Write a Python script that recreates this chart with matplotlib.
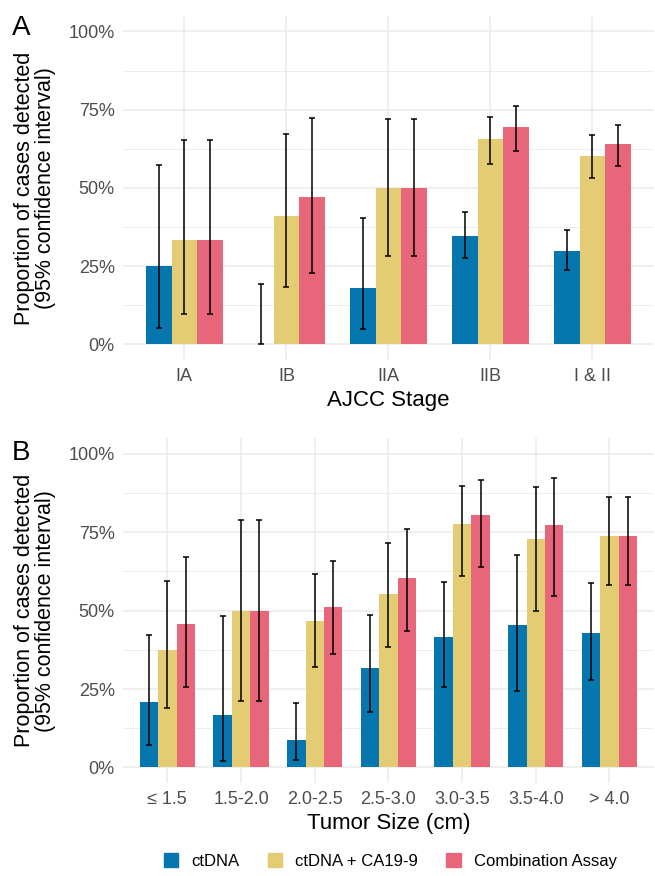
import matplotlib
matplotlib.use("Agg")
from matplotlib import pyplot as plt
from matplotlib.patches import Patch
from matplotlib.ticker import FixedLocator, PercentFormatter
import numpy as np

plt.rcParams['font.family'] = ['Liberation Sans', 'DejaVu Sans']

series = ["ctDNA", "ctDNA + CA19-9", "Combination Assay"]
colors = ["#0677AE", "#E3CC73", "#E8667A"]

# panel A: AJCC stage
stages = ["IA", "IB", "IIA", "IIB", "I & II"]
stage_val = [
    [25.0, 0.0, 18.0, 34.7, 29.9],
    [33.3, 41.1, 50.0, 65.5, 60.3],
    [33.3, 47.2, 50.0, 69.6, 63.9],
]
stage_lo = [
    [5.3, 0.0, 5.0, 27.6, 23.8],
    [9.8, 18.4, 28.1, 57.6, 53.3],
    [9.8, 22.9, 28.1, 61.9, 57.1],
]
stage_hi = [
    [57.2, 19.4, 40.3, 42.4, 36.4],
    [65.2, 67.1, 71.9, 72.5, 66.8],
    [65.2, 72.3, 71.9, 76.3, 70.2],
]

# panel B: tumor size
sizes = ["\u2264 1.5", "1.5-2.0", "2.0-2.5", "2.5-3.0", "3.0-3.5", "3.5-4.0", "> 4.0"]
size_val = [
    [20.9, 16.7, 8.7, 31.7, 41.6, 45.4, 42.9],
    [37.4, 49.9, 46.7, 55.3, 77.7, 72.9, 73.8],
    [45.7, 49.9, 51.1, 60.4, 80.5, 77.3, 73.8],
]
size_lo = [
    [7.2, 2.1, 2.4, 17.6, 25.5, 24.5, 27.8],
    [18.8, 21.2, 32.1, 38.3, 60.9, 49.8, 58.0],
    [25.6, 21.2, 36.1, 43.4, 63.9, 54.7, 58.0],
]
size_hi = [
    [42.2, 48.4, 20.4, 48.7, 59.1, 67.8, 58.9],
    [59.5, 78.9, 61.8, 71.4, 89.8, 89.3, 86.1],
    [67.2, 78.9, 65.9, 76.0, 91.7, 92.1, 86.1],
]


def panel(ax, cats, vals, lo, hi, xlabel):
    x = np.arange(len(cats))
    w = 0.25
    for i in range(3):
        xs = x + (i - 1) * w
        v = np.array(vals[i])
        ax.bar(xs, v, width=w, color=colors[i], zorder=2)
        yerr = [v - np.array(lo[i]), np.array(hi[i]) - v]
        ax.errorbar(xs, v, yerr=yerr, fmt='none', ecolor='black',
                    elinewidth=1.1, capsize=2.2, capthick=1.1, zorder=3)
    ax.set_xlim(-0.6, len(cats) - 0.4)
    ax.set_ylim(-5, 105)
    ax.set_xticks(x)
    ax.set_xticklabels(cats)
    ax.set_yticks([0, 25, 50, 75, 100])
    ax.yaxis.set_minor_locator(FixedLocator([12.5, 37.5, 62.5, 87.5]))
    ax.yaxis.set_major_formatter(PercentFormatter(decimals=0))
    ax.grid(True, which='major', color='#EBEBEB', linewidth=1.1, zorder=0)
    ax.grid(True, which='minor', axis='y', color='#EBEBEB', linewidth=0.6, zorder=0)
    ax.set_axisbelow(True)
    for s in ax.spines.values():
        s.set_visible(False)
    ax.tick_params(which='both', length=0, labelsize=13, labelcolor='#4D4D4D', pad=6)
    ax.set_xlabel(xlabel, fontsize=16, labelpad=3)
    ax.set_ylabel("Proportion of cases detected\n(95% confidence interval)",
                  fontsize=15.5, linespacing=0.98, labelpad=9)


fig = plt.figure(figsize=(6.55, 8.76), dpi=100)
ax1 = fig.add_axes([0.188, 0.589, 0.810, 0.393])
ax2 = fig.add_axes([0.188, 0.106, 0.810, 0.394])

panel(ax1, stages, stage_val, stage_lo, stage_hi, "AJCC Stage")
panel(ax2, sizes, size_val, size_lo, size_hi, "Tumor Size (cm)")

fig.text(0.018, 0.983, "A", fontsize=20, va='top', ha='left')
fig.text(0.018, 0.498, "B", fontsize=20, va='top', ha='left')

handles = [Patch(color=c, label=s) for c, s in zip(colors, series)]
fig.legend(handles=handles, loc='lower center', bbox_to_anchor=(0.596, -0.009),
           ncol=3, frameon=False, fontsize=12, handlelength=0.85, handleheight=0.95,
           columnspacing=1.7, handletextpad=0.8)

fig.savefig("out.png", dpi=100)
